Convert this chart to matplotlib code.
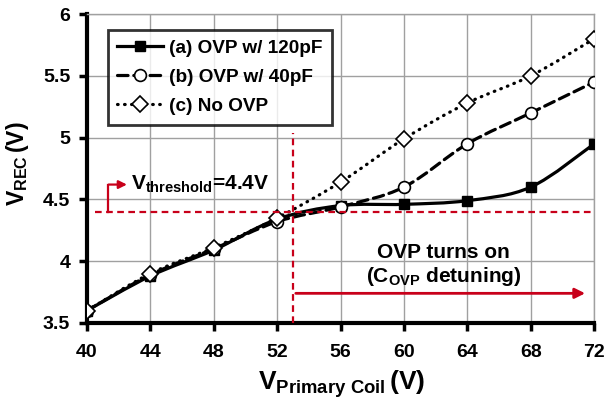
import matplotlib
matplotlib.use("Agg")
import matplotlib.pyplot as plt
from matplotlib.path import Path
from matplotlib.patches import PathPatch
from matplotlib.lines import Line2D

plt.rcParams['font.family'] = ['Liberation Sans', 'DejaVu Sans']
plt.rcParams['font.weight'] = 'bold'
plt.rcParams['mathtext.fontset'] = 'custom'
plt.rcParams['mathtext.bf'] = 'Liberation Sans:bold'
plt.rcParams['mathtext.rm'] = 'Liberation Sans:bold'
plt.rcParams['mathtext.it'] = 'Liberation Sans:bold'

v_primary = [40, 44, 48, 52, 56, 60, 64, 68, 72]
v_ovp_120pf = [3.60, 3.88, 4.09, 4.34, 4.45, 4.46, 4.49, 4.60, 4.95]
v_ovp_40pf = [3.60, 3.89, 4.10, 4.32, 4.44, 4.60, 4.95, 5.20, 5.45]
v_no_ovp = [3.60, 3.90, 4.11, 4.35, 4.64, 4.99, 5.28, 5.50, 5.80]
labels = ["(a) OVP w/ 120pF", "(b) OVP w/ 40pF", "(c) No OVP"]
x_ticks = [40, 44, 48, 52, 56, 60, 64, 68, 72]
y_ticks = [3.5, 4, 4.5, 5, 5.5, 6]
y_tick_labels = ["3.5", "4", "4.5", "5", "5.5", "6"]
v_threshold = 4.4
v_turn_on = 53

red = '#C8001A'


def smooth_path(xs, ys):
    """Excel-style smoothed line: cubic Bezier through the data points."""
    n = len(xs)
    verts = [(xs[0], ys[0])]
    codes = [Path.MOVETO]
    for i in range(n - 1):
        p0 = (xs[max(i - 1, 0)], ys[max(i - 1, 0)])
        p1 = (xs[i], ys[i])
        p2 = (xs[i + 1], ys[i + 1])
        p3 = (xs[min(i + 2, n - 1)], ys[min(i + 2, n - 1)])
        c1 = (p1[0] + (p2[0] - p0[0]) / 6, p1[1] + (p2[1] - p0[1]) / 6)
        c2 = (p2[0] - (p3[0] - p1[0]) / 6, p2[1] - (p3[1] - p1[1]) / 6)
        verts += [c1, c2, p2]
        codes += [Path.CURVE4] * 3
    return Path(verts, codes)


fig = plt.figure(figsize=(6.12, 4.07), dpi=100)
ax = fig.add_axes([0.142, 0.2064, 0.829, 0.7592])

series = [
    (v_ovp_120pf, dict(linestyle='-'), dict(marker='s', ms=7, mfc='black', mec='black'), 3),
    (v_ovp_40pf, dict(linestyle=(0, (3.3, 1.8))), dict(marker='o', ms=8.5, mfc='white', mec='black', mew=1.2), 4),
    (v_no_ovp, dict(linestyle=(0, (0.2, 2.0))), dict(marker='D', ms=8, mfc='white', mec='black', mew=1.2), 5),
]
handles = []
for (ys, lstyle, mstyle, z), lab in zip(series, labels):
    patch = PathPatch(smooth_path(v_primary, ys), fill=False, edgecolor='black', lw=2.3,
                      capstyle='round' if lstyle['linestyle'] != '-' else 'butt', zorder=z, **lstyle)
    ax.add_patch(patch)
    ax.plot(v_primary, ys, linestyle='none', zorder=z + 0.5, **mstyle)
    handles.append(Line2D([], [], color='black', lw=2.3, dash_capstyle='round', **lstyle, **mstyle))

# threshold lines
ax.plot([40.5, 72], [v_threshold, v_threshold], color=red, lw=1.6, dashes=(3, 2), zorder=6)
ax.plot([v_turn_on, v_turn_on], [3.5, 5.04], color=red, lw=1.6, dashes=(3, 2), zorder=6)

# small bracket arrow
ax.plot([41.3, 41.3], [v_threshold, 4.62], color=red, lw=1.6, zorder=6)
ax.annotate('', xy=(42.7, 4.62), xytext=(41.2, 4.62),
            arrowprops=dict(arrowstyle='-|>', color=red, lw=1.6, mutation_scale=12), zorder=6)
ax.text(42.8, 4.62, r'$\mathbf{V}_{\mathbf{threshold}}$=4.4V', fontsize=15,
        fontweight='bold', va='center', ha='left', zorder=7)

# turn-on arrow
ax.annotate('', xy=(71.6, 3.74), xytext=(v_turn_on, 3.74),
            arrowprops=dict(arrowstyle='-|>', color=red, lw=2, mutation_scale=15), zorder=6)
ax.text(62.5, 4.07, 'OVP turns on', fontsize=15, fontweight='bold', ha='center', va='center')
ax.text(62.5, 3.88, r'(C$_{\mathbf{OVP}}$ detuning)', fontsize=15, fontweight='bold',
        ha='center', va='center')

ax.set_xlim(40, 72)
ax.set_ylim(3.5, 6)
ax.set_xticks(x_ticks)
ax.set_yticks(y_ticks)
ax.set_yticklabels(y_tick_labels)
ax.grid(True, color='#a0a0a0', lw=1)
ax.set_axisbelow(True)
for s in ['top', 'right']:
    ax.spines[s].set_color('#a0a0a0')
    ax.spines[s].set_linewidth(1)
for s in ['left', 'bottom']:
    ax.spines[s].set_color('black')
    ax.spines[s].set_linewidth(3)
ax.tick_params(axis='both', direction='out', length=6, width=2.5, labelsize=14)
ax.tick_params(axis='x', pad=9)
ax.tick_params(axis='y', pad=6)
for lab in ax.get_xticklabels() + ax.get_yticklabels():
    lab.set_fontweight('bold')

ax.set_xlabel(r'$\mathbf{V}_{\mathbf{Primary\ Coil}}\,$(V)', fontsize=19, fontweight='bold')
ax.xaxis.set_label_coords(0.503, -0.148)
ax.set_ylabel(r'$\mathbf{V}_{\mathbf{REC}}\,$(V)', fontsize=16.5, fontweight='bold')
ax.yaxis.set_label_coords(-0.11, 0.515)

leg = ax.legend(handles, labels, loc='upper left', bbox_to_anchor=(0.041, 0.948), borderaxespad=0,
                fontsize=13.7, frameon=True, fancybox=False, edgecolor='black', handlelength=2.4,
                handletextpad=0.3, borderpad=0.5, labelspacing=0.62)
leg.get_frame().set_linewidth(2)
for t in leg.get_texts():
    t.set_fontweight('bold')

fig.savefig('out.png', dpi=100)
